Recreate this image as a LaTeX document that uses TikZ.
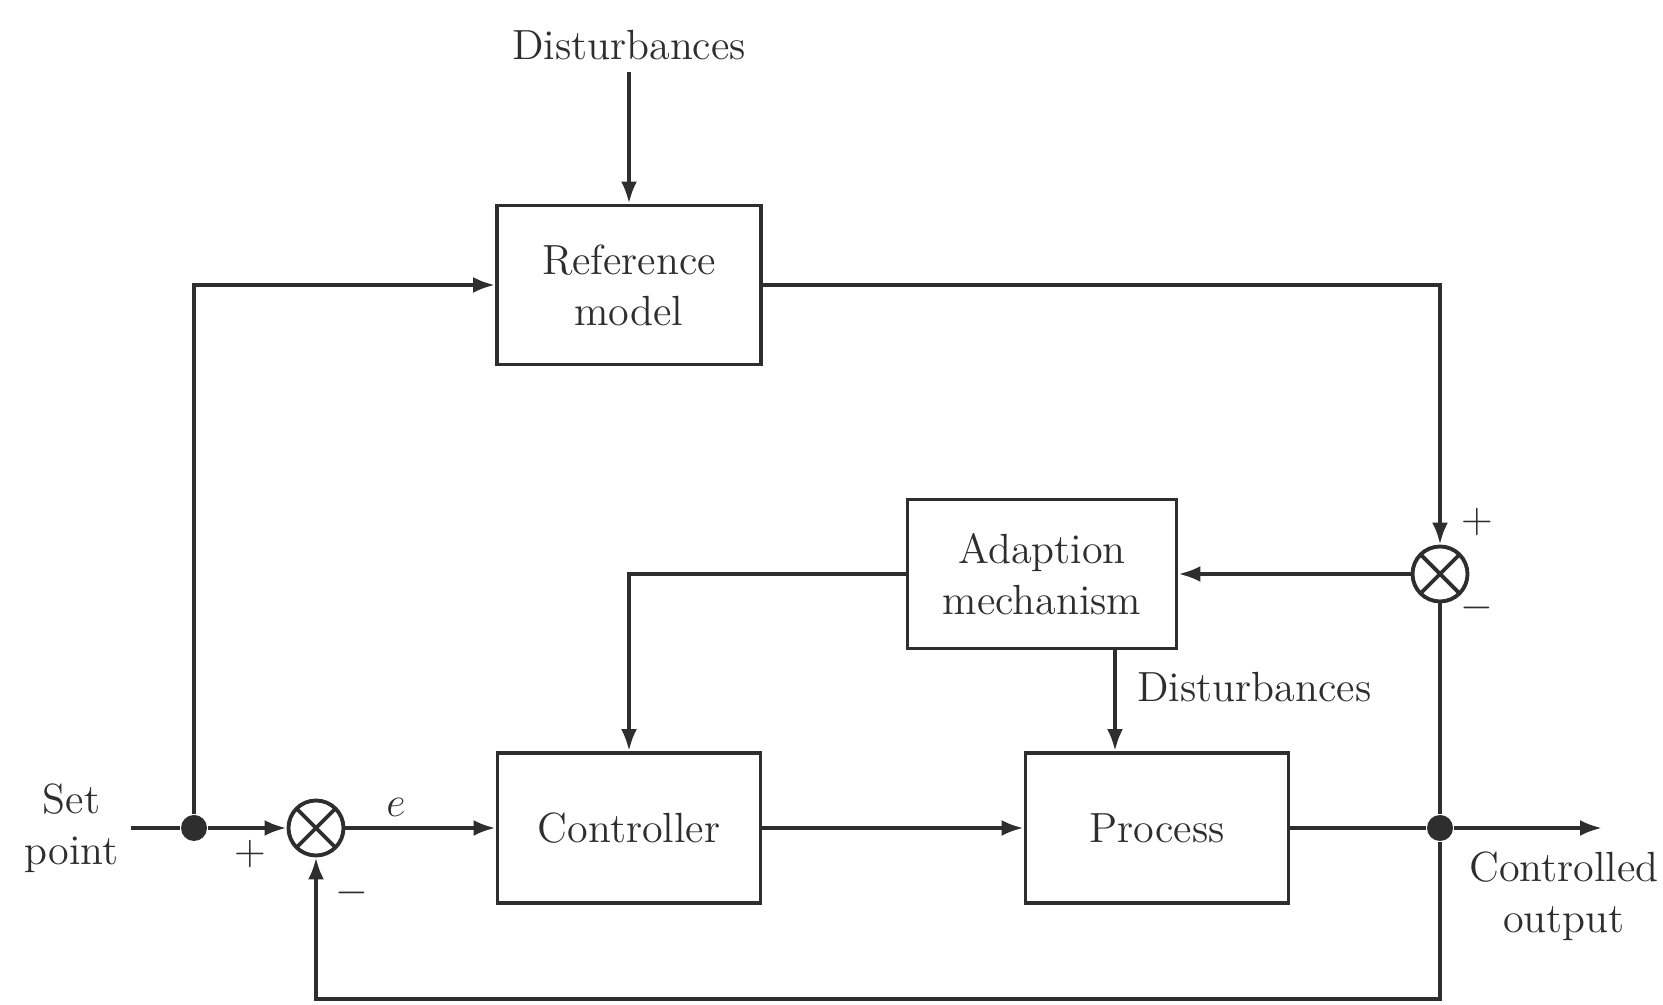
\documentclass[tikz,border=0pt]{standalone}
\usepackage{tikz}
\usetikzlibrary{positioning, arrows.meta, calc}
\definecolor{ink}{HTML}{2E2E2E}

\begin{document}
\begin{tikzpicture}
        [
            color=ink,
            every node/.style={font=\fontsize{12}{14.5}\selectfont},
            block/.style={draw, line width=1.1pt, align=center, inner sep=0pt},
            sumnode/.style={circle, draw, line width=1.1pt, minimum size=5.5mm, inner sep=0pt,
                path picture={
                    \draw[line width=1.1pt] (path picture bounding box.north west) -- (path picture bounding box.south east);
                    \draw[line width=1.1pt] (path picture bounding box.south west) -- (path picture bounding box.north east);
                }},
            dot/.style={circle, fill, minimum size=2.6mm, inner sep=0pt},
            wire/.style={line width=1.1pt},
            sig/.style={line width=1.1pt, -{Latex[length=2.2mm,width=1.6mm]}},
        ]
        \useasboundingbox (0,0) rectangle (16.63,10.05);

        % blocks
        \node[block, minimum width=2.64cm, minimum height=1.59cm] (refmodel) at (6.29,7.20) {Reference\\model};
        \node[block, minimum width=2.69cm, minimum height=1.49cm] (adapt) at (10.42,4.31) {Adaption\\mechanism};
        \node[block, minimum width=2.63cm, minimum height=1.50cm] (ctrl) at (6.29,1.77) {Controller};
        \node[block, minimum width=2.63cm, minimum height=1.50cm] (proc) at (11.57,1.77) {Process};

        % junctions
        \node[sumnode] (sumL) at (3.16,1.77) {};
        \node[sumnode] (sumR) at (14.40,4.31) {};
        \node[dot] (dotL) at (1.94,1.77) {};
        \node[dot] (dotR) at (14.40,1.77) {};

        % labels
        \node (distA) at (6.29,9.60) {Disturbances};
        \node[anchor=west] (distB) at (11.25,3.18) {Disturbances};
        \node[anchor=east, align=center] (setpt) at (1.31,1.77) {Set\\point};
        \node[align=center] (outlbl) at (15.64,1.09) {Controlled\\output};
        \node (elbl) at (3.96,1.98) {$e$};
        \node (plusL) at (2.50,1.51) {$+$};
        \node (minusL) at (3.52,1.12) {$-$};
        \node (plusR) at (14.77,4.83) {$+$};
        \node (minusR) at (14.77,3.97) {$-$};

        \coordinate (dtop) at (11.15,3.565);
        \coordinate (outend) at (16.02,1.77);
        \coordinate (fbk) at (14.40,0.06);

        % connectors
        \draw[sig] (distA) -- (refmodel);
        \draw[sig] (dtop) -- (dtop |- proc.north);
        \draw[wire] (setpt.east) -- (dotL);
        \draw[sig] (dotL) -- (sumL);
        \draw[sig] (dotL) |- (refmodel.west);
        \draw[sig] (sumL) -- (ctrl);
        \draw[sig] (ctrl) -- (proc);
        \draw[wire] (proc) -- (dotR);
        \draw[sig] (dotR) -- (outend);
        \draw[sig] (refmodel.east) -| (sumR.north);
        \draw[sig] (sumR.west) -- (adapt.east);
        \draw[sig] (adapt.west) -| (ctrl.north);
        \draw[wire] (sumR.south) -- (dotR);
        \draw[sig] (dotR) -- (fbk) -| (sumL.south);
    \end{tikzpicture}
\end{document}
